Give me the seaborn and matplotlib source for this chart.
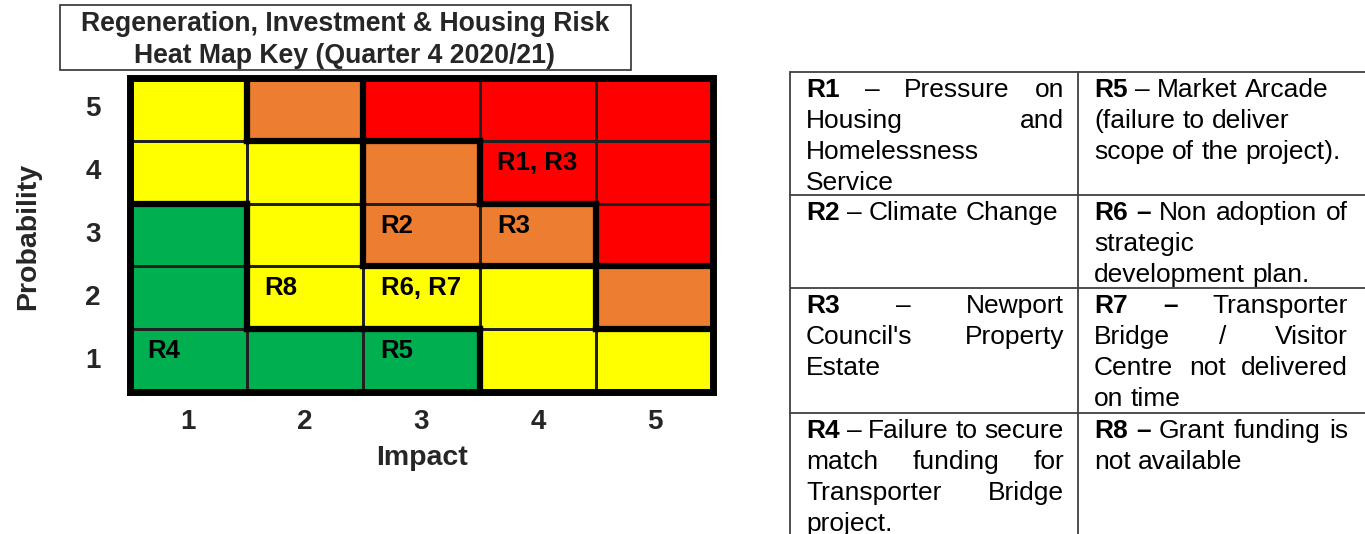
import numpy as np
import pandas as pd
import matplotlib
matplotlib.use("Agg")
import matplotlib.pyplot as plt
import seaborn as sns
from matplotlib.colors import ListedColormap
from matplotlib.patches import Rectangle

# Dados do mapa de calor (linhas: probabilidade 5 -> 1, colunas: impacto 1 -> 5)
# 0 = verde, 1 = amarelo, 2 = laranja, 3 = vermelho
probabilidade = [5, 4, 3, 2, 1]
impacto = [1, 2, 3, 4, 5]
nivel_risco = [
    [1, 2, 3, 3, 3],
    [1, 1, 2, 3, 3],
    [0, 1, 2, 2, 3],
    [0, 1, 1, 1, 2],
    [0, 0, 0, 1, 1],
]
rotulos_risco = [
    ["", "", "", "", ""],
    ["", "", "", "R1, R3", ""],
    ["", "", "R2", "R3", ""],
    ["", "R8", "R6, R7", "", ""],
    ["R4", "", "R5", "", ""],
]
cores = ["#00B050", "#FFFF00", "#ED7D31", "#FF0000"]

titulo = "Regeneration, Investment & Housing Risk\nHeat Map Key (Quarter 4 2020/21)"

# Legenda: '*' marca palavra em negrito, True = linha justificada
legenda_esq = [
    [("*R1 – Pressure on", True), ("Housing and", True), ("Homelessness", False), ("Service", False)],
    [("*R2 – Climate Change", False)],
    [("*R3 – Newport", True), ("Council's Property", True), ("Estate", False)],
    [("*R4 – Failure to secure", True), ("match funding for", True), ("Transporter Bridge", True), ("project.", False)],
]
legenda_dir = [
    [("*R5 – Market Arcade", False), ("(failure to deliver", False), ("scope of the project).", False)],
    [("*R6 *– Non adoption of", True), ("strategic", False), ("development plan.", False)],
    [("*R7 *– Transporter", True), ("Bridge / Visitor", True), ("Centre not delivered", True), ("on time", False)],
    [("*R8 *– Grant funding is", True), ("not available", False)],
]

sns.set_style("white")
plt.rcParams["font.family"] = ["Liberation Sans", "DejaVu Sans"]

W, H = 1365, 534
fig = plt.figure(figsize=(W / 100, H / 100), dpi=100)

# --- mapa de calor ---
gx0, gx1, gy0, gy1 = 130, 713, 78, 392
ax = fig.add_axes([gx0 / W, 1 - gy1 / H, (gx1 - gx0) / W, (gy1 - gy0) / H])
df = pd.DataFrame(nivel_risco, index=probabilidade, columns=impacto)
sns.heatmap(df, cmap=ListedColormap(cores), vmin=-0.5, vmax=3.5, cbar=False,
            linewidths=0.8, linecolor="#202020", ax=ax,
            xticklabels=impacto, yticklabels=probabilidade)

n = len(probabilidade)
m = len(impacto)
# linhas grossas entre zonas de cor diferentes
for i in range(n):
    for j in range(m):
        if j + 1 < m and nivel_risco[i][j] != nivel_risco[i][j + 1]:
            ax.plot([j + 1, j + 1], [i, i + 1], color="black", lw=4.5, solid_capstyle="projecting")
        if i + 1 < n and nivel_risco[i][j] != nivel_risco[i + 1][j]:
            ax.plot([j, j + 1], [i + 1, i + 1], color="black", lw=4.5, solid_capstyle="projecting")
        if rotulos_risco[i][j]:
            ax.text(j + 0.15, i + 0.35, rotulos_risco[i][j], ha="left", va="center",
                    fontsize=18.5, fontweight="bold", color="black")
ax.add_patch(Rectangle((0, 0), m, n, fill=False, lw=5, edgecolor="black", clip_on=False))

ax.tick_params(axis="both", length=0, labelsize=20)
ax.tick_params(axis="y", pad=21)
ax.tick_params(axis="x", pad=12)
for t in ax.get_xticklabels() + ax.get_yticklabels():
    t.set_fontweight("bold")
    t.set_rotation(0)
ax.set_xlabel("Impact", fontsize=20.5, fontweight="bold")
ax.set_ylabel("Probability", fontsize=20.5, fontweight="bold")
ax.xaxis.set_label_coords((422 - gx0) / (gx1 - gx0), (gy1 - 458) / (gy1 - gy0))
ax.xaxis.label.set_va("center")
ax.yaxis.set_label_coords((28 - gx0) / (gx1 - gx0), (gy1 - 236) / (gy1 - gy0))
ax.yaxis.label.set_va("center")

# --- camada em pixels para título e tabela ---
ov = fig.add_axes([0, 0, 1, 1])
ov.set_xlim(0, W)
ov.set_ylim(H, 0)
ov.axis("off")

ov.add_patch(Rectangle((60, 5), 571, 65, fill=False, lw=1.2, edgecolor="#303030"))
ov.text(345, 40, titulo, ha="center", va="center", fontsize=19.2, fontweight="bold",
        linespacing=1.3)

# tabela da legenda
linha_cor = "#404040"
tab_x0, tab_xm, tab_x1 = 790, 1078, 1370
linhas_y = [72, 195, 288, 413]
for y in linhas_y:
    ov.plot([tab_x0, tab_x1], [y, y], color=linha_cor, lw=1.3)
for x in [tab_x0, tab_xm]:
    ov.plot([x, x], [linhas_y[0], H + 5], color=linha_cor, lw=1.3)

FS = 19
fig.canvas.draw()
renderer = fig.canvas.get_renderer()


def largura(texto, negrito):
    t = ov.text(0, 0, texto, fontsize=FS, fontweight="bold" if negrito else "normal")
    bb = t.get_window_extent(renderer)
    t.remove()
    return bb.width


espaco = largura("a b", False) - largura("ab", False)


def desenha_linha(spec, x0, x1, y, justificar):
    tokens = [(w.lstrip("*"), w.startswith("*")) for w in spec.split(" ")]
    larguras = [largura(t, b) for t, b in tokens]
    if justificar and len(tokens) > 1:
        gap = (x1 - x0 - sum(larguras)) / (len(tokens) - 1)
    else:
        gap = espaco
    x = x0
    for (t, b), w in zip(tokens, larguras):
        ov.text(x, y, t, fontsize=FS, fontweight="bold" if b else "normal",
                ha="left", va="baseline", color="black")
        x += w + gap


for col, (x0, x1) in zip([legenda_esq, legenda_dir], [(806, 1064), (1094, 1348)]):
    for r, celula in enumerate(col):
        for k, (spec, just) in enumerate(celula):
            desenha_linha(spec, x0, x1, linhas_y[r] + 25 + 31 * k, just)

fig.savefig("out.png", dpi=100)
